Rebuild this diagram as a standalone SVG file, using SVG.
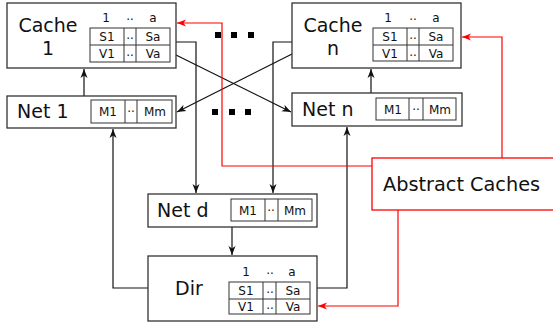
<svg xmlns="http://www.w3.org/2000/svg" width="553" height="328" viewBox="0 0 553 328">
<style>
.box{fill:#fff;stroke:#333;stroke-width:1.3}
.tbl{fill:none;stroke:#333;stroke-width:1}
.big{font-family:"DejaVu Sans",sans-serif;font-size:19px;fill:#111}
.sm{font-family:"DejaVu Sans",sans-serif;font-size:12px;fill:#111;text-anchor:middle}
.c{fill:none;stroke:#111;stroke-width:1.2}
.r{fill:none;stroke:#f00;stroke-width:1.2}
.rbox{fill:#fff;stroke:#f00;stroke-width:1.3}
</style>
<defs>
<marker id="ab" markerWidth="10" markerHeight="8" refX="9" refY="4" orient="auto" markerUnits="userSpaceOnUse"><path d="M0,0.5 L9,4 L0,7.5 L2.5,4 z" fill="#111"/></marker>
<marker id="ar" markerWidth="10" markerHeight="8" refX="9" refY="4" orient="auto" markerUnits="userSpaceOnUse"><path d="M0,0.5 L9,4 L0,7.5 L2.5,4 z" fill="#f00"/></marker>
</defs>

<g id="connectors">
<path class="c" d="M84 96 V69" marker-end="url(#ab)"/>
<path class="c" d="M371 93 V69" marker-end="url(#ab)"/>
<path class="c" d="M232 227 V255" marker-end="url(#ab)"/>
<path class="c" d="M176 42 H196 V193" marker-end="url(#ab)"/>
<path class="c" d="M292 42 H273 V193" marker-end="url(#ab)"/>
<path class="c" d="M176 55 L291 112" marker-end="url(#ab)"/>
<path class="c" d="M292 54 L177 112" marker-end="url(#ab)"/>
<path class="c" d="M148 288 H113 V129" marker-end="url(#ab)"/>
<path class="c" d="M317 288 H347 V127" marker-end="url(#ab)"/>
<path class="r" d="M372 166 H222 V23 H177" marker-end="url(#ar)"/>
<path class="r" d="M502 158 V37 H462" marker-end="url(#ar)"/>
<path class="r" d="M398 210 V306 H318" marker-end="url(#ar)"/>
</g>

<g id="dots" fill="#000">
<rect x="215" y="32" width="6" height="6"/><rect x="231" y="32" width="6" height="6"/><rect x="248" y="32" width="6" height="6"/>
<rect x="212" y="109" width="6" height="6"/><rect x="229" y="109" width="6" height="6"/><rect x="245" y="109" width="6" height="6"/>
</g>

<g id="cache1">
<rect class="box" x="7" y="3" width="169" height="65"/>
<text class="big" x="48" y="32" text-anchor="middle">Cache</text>
<text class="big" x="48" y="55" text-anchor="middle">1</text>
<text class="sm" x="106" y="22">1</text><text class="sm" x="130" y="20">..</text><text class="sm" x="153" y="22">a</text>
<rect class="tbl" x="90" y="28" width="80" height="34"/>
<path class="tbl" d="M90 45 H170 M124 28 V62 M136 28 V62"/>
<text class="sm" x="107" y="41">S1</text><text class="sm" x="130" y="39">..</text><text class="sm" x="153" y="41">Sa</text>
<text class="sm" x="107" y="58">V1</text><text class="sm" x="130" y="56">..</text><text class="sm" x="153" y="58">Va</text>
</g>

<g id="cachen">
<rect class="box" x="292" y="3" width="169" height="65"/>
<text class="big" x="333" y="32" text-anchor="middle">Cache</text>
<text class="big" x="333" y="55" text-anchor="middle">n</text>
<text class="sm" x="388" y="22">1</text><text class="sm" x="413" y="20">..</text><text class="sm" x="436" y="22">a</text>
<rect class="tbl" x="373" y="28" width="80" height="33"/>
<path class="tbl" d="M373 45 H453 M407 28 V61 M419 28 V61"/>
<text class="sm" x="390" y="41">S1</text><text class="sm" x="413" y="39">..</text><text class="sm" x="436" y="41">Sa</text>
<text class="sm" x="390" y="58">V1</text><text class="sm" x="413" y="56">..</text><text class="sm" x="436" y="58">Va</text>
</g>

<g id="net1">
<rect class="box" x="7" y="96" width="169" height="32"/>
<text class="big" x="17" y="118">Net 1</text>
<rect class="tbl" x="91" y="100" width="81" height="23"/>
<path class="tbl" d="M125 100 V123 M137 100 V123"/>
<text class="sm" x="108" y="116">M1</text><text class="sm" x="131" y="112">..</text><text class="sm" x="155" y="116">Mm</text>
</g>

<g id="netn">
<rect class="box" x="292" y="93" width="170" height="33"/>
<text class="big" x="302" y="116">Net n</text>
<rect class="tbl" x="376" y="98" width="80" height="22"/>
<path class="tbl" d="M409 98 V120 M423 98 V120"/>
<text class="sm" x="393" y="114">M1</text><text class="sm" x="416" y="110">..</text><text class="sm" x="440" y="114">Mm</text>
</g>

<g id="netd">
<rect class="box" x="148" y="194" width="169" height="33"/>
<text class="big" x="157" y="217">Net d</text>
<rect class="tbl" x="231" y="199" width="81" height="22"/>
<path class="tbl" d="M265 199 V221 M278 199 V221"/>
<text class="sm" x="248" y="215">M1</text><text class="sm" x="271" y="211">..</text><text class="sm" x="295" y="215">Mm</text>
</g>

<g id="dir">
<rect class="box" x="148" y="256" width="169" height="65"/>
<text class="big" x="175" y="295">Dir</text>
<text class="sm" x="246" y="276">1</text><text class="sm" x="270" y="274">..</text><text class="sm" x="292" y="276">a</text>
<rect class="tbl" x="229" y="282" width="81" height="32"/>
<path class="tbl" d="M229 299 H310 M263 282 V314 M276 282 V314"/>
<text class="sm" x="246" y="295">S1</text><text class="sm" x="270" y="293">..</text><text class="sm" x="293" y="295">Sa</text>
<text class="sm" x="246" y="311">V1</text><text class="sm" x="270" y="309">..</text><text class="sm" x="293" y="311">Va</text>
</g>

<g id="abstract">
<rect class="rbox" x="372" y="158" width="190" height="52"/>
<text class="big" x="383" y="191" style="font-size:19.3px">Abstract Caches</text>
</g>
</svg>
